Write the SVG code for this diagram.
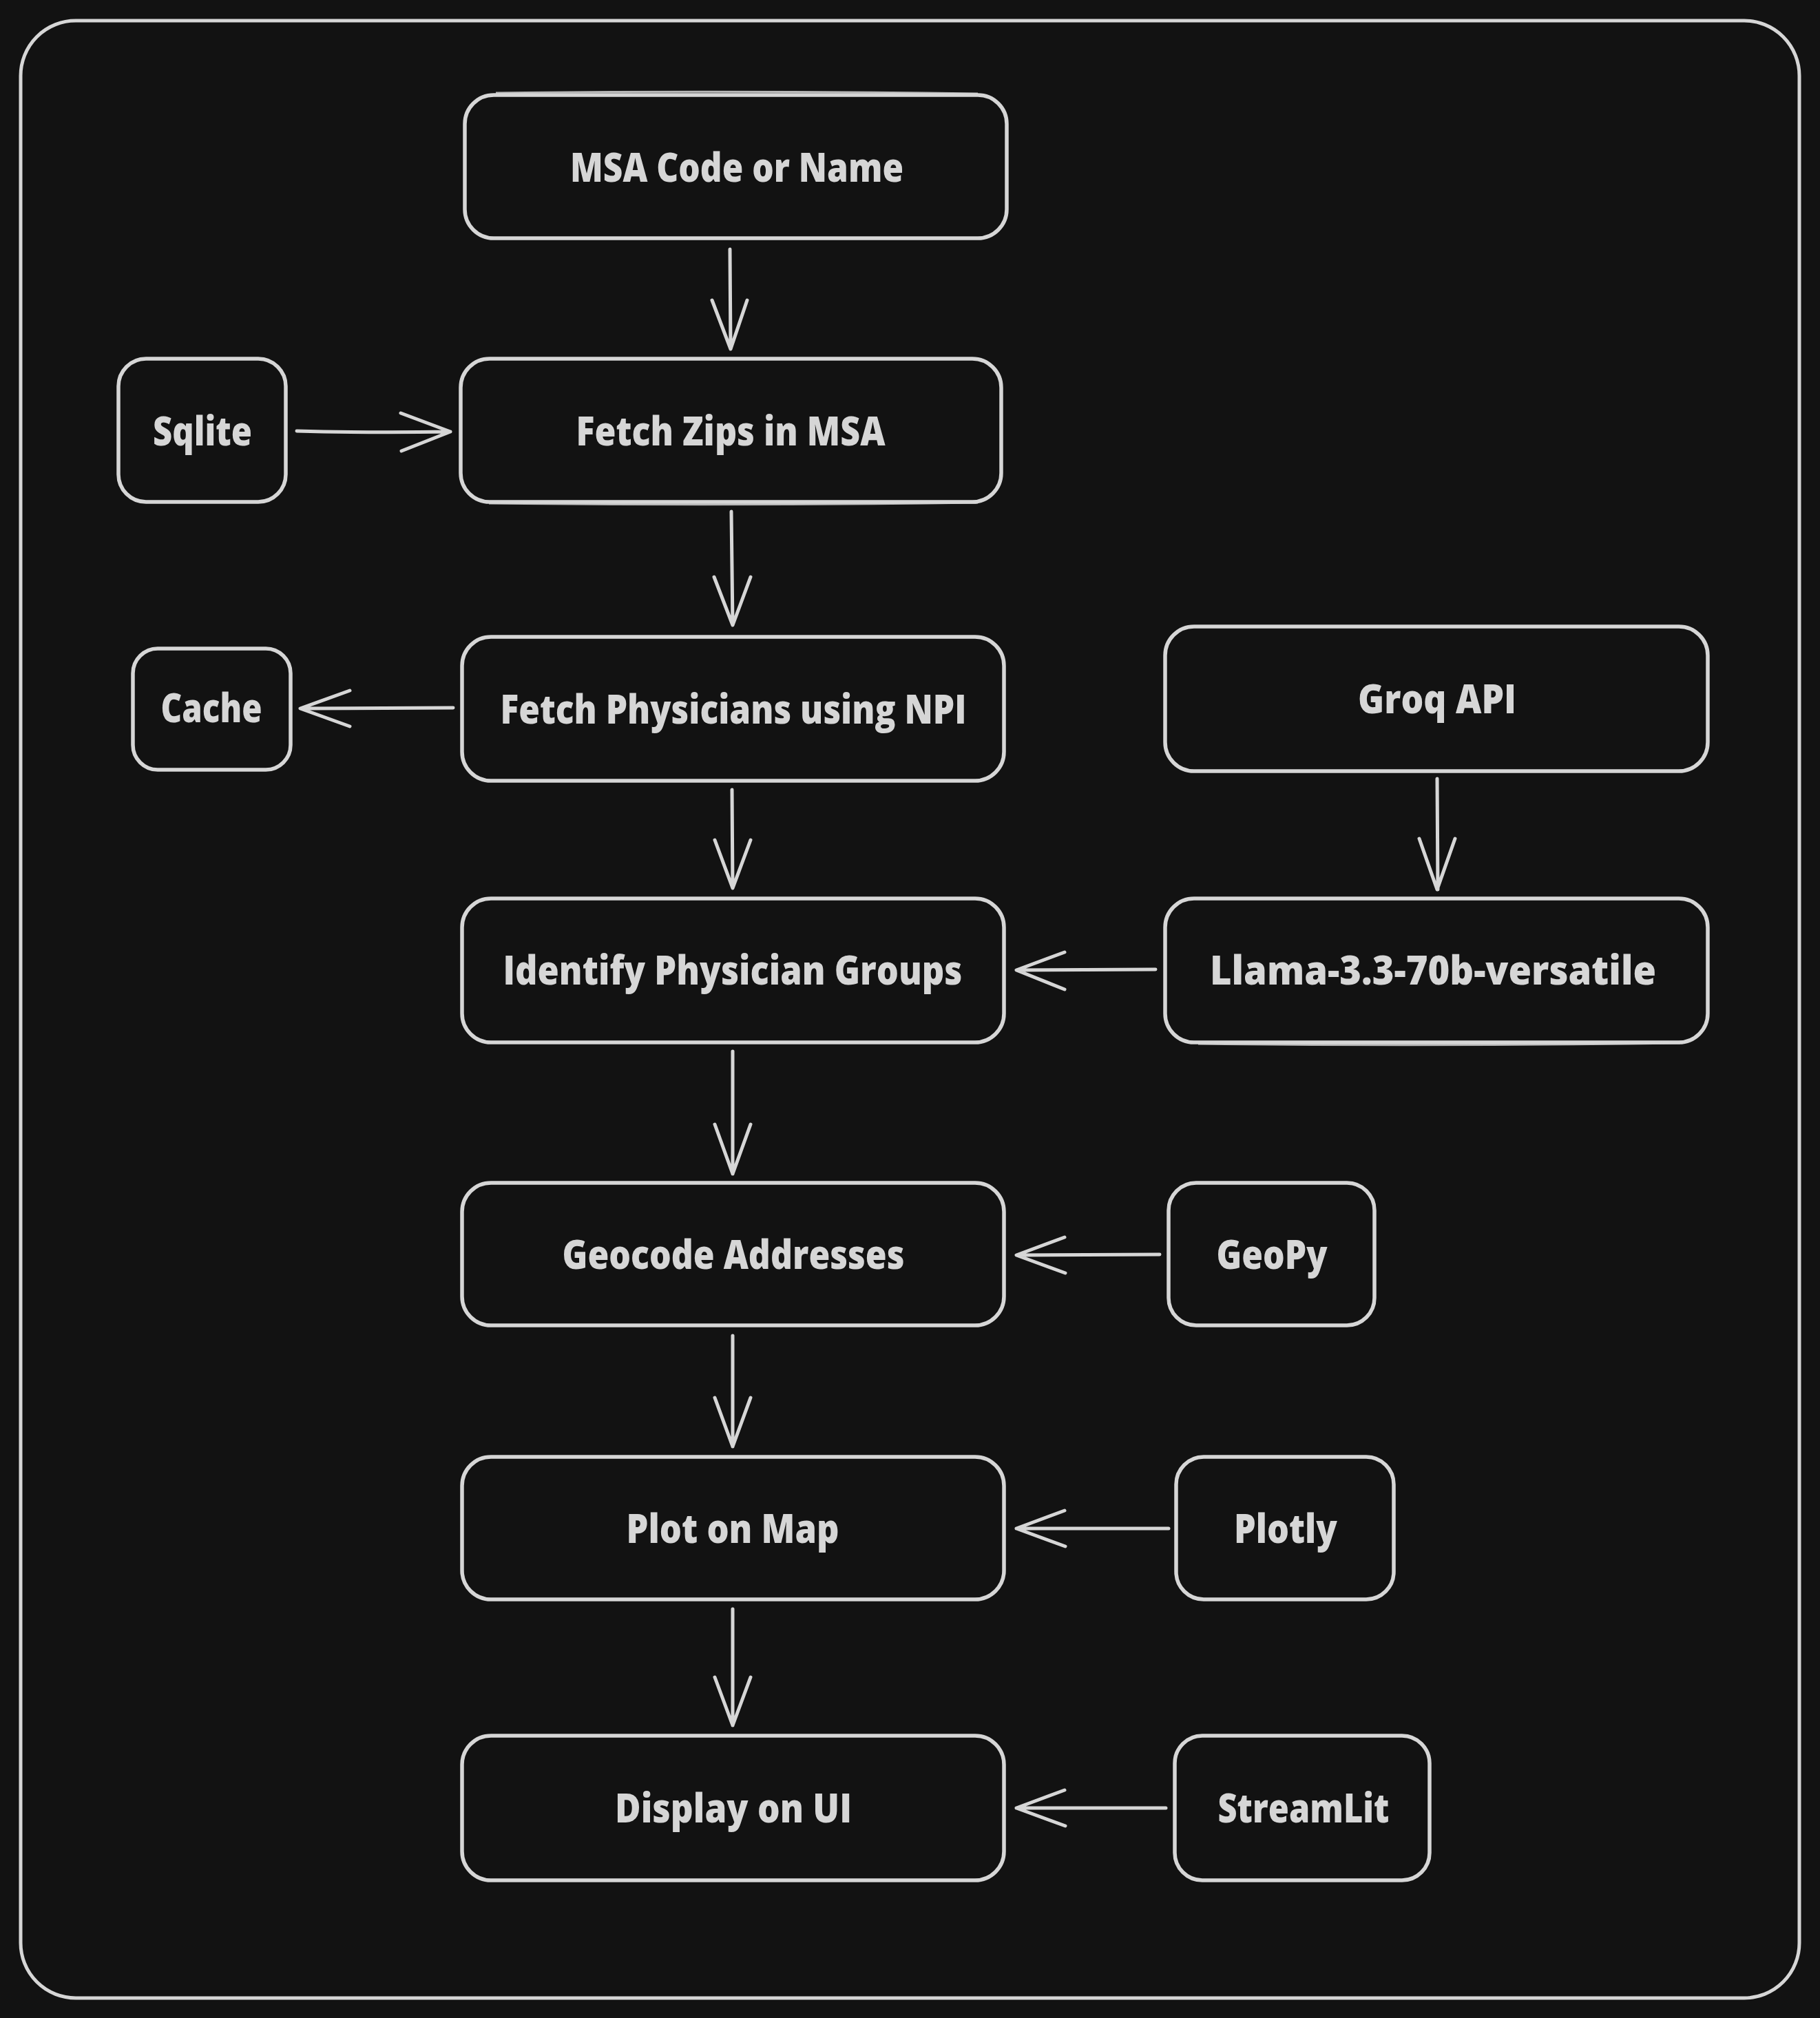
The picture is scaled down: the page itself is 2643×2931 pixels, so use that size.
<svg xmlns="http://www.w3.org/2000/svg" width="2643" height="2931" viewBox="0 0 2643 2931">
<defs>
<style>
.bg{fill:#121212}
.frame{fill:none;stroke:#d6d6d6;stroke-width:5}
.box{fill:#121212;stroke:#d6d6d6;stroke-width:5.5}
.sk{fill:none;stroke:#d6d6d6;stroke-width:3;opacity:0.85}
.lbl{fill:#d6d6d6;font-family:"Open Sans","Liberation Sans",sans-serif;font-weight:800;font-size:58px;text-anchor:middle}
.edge{fill:none;stroke:#d6d6d6;stroke-width:5;stroke-linecap:round;stroke-linejoin:round}
</style>
</defs>
<rect class="bg" x="0" y="0" width="2643" height="2931"/>
<rect class="frame" x="30" y="30" width="2583" height="2872" rx="80" ry="80"/>

<g id="n-msa">
<rect class="box" x="675" y="138" width="787" height="208" rx="42"/>
<path class="sk" d="M720 135 Q1070 131 1420 136"/>
<text class="lbl" x="1070" y="264" textLength="484" lengthAdjust="spacingAndGlyphs">MSA Code or Name</text>
</g>
<g id="n-sqlite">
<rect class="box" x="172" y="521" width="243" height="208" rx="40"/>
<text class="lbl" x="294" y="647" textLength="144" lengthAdjust="spacingAndGlyphs">Sqlite</text>
</g>
<g id="n-zips">
<rect class="box" x="669" y="521" width="785" height="208" rx="42"/>
<path class="sk" d="M710 731 Q1060 735 1420 730"/>
<text class="lbl" x="1061" y="647" textLength="449" lengthAdjust="spacingAndGlyphs">Fetch Zips in MSA</text>
</g>
<g id="n-cache">
<rect class="box" x="193" y="942" width="229" height="176" rx="36"/>
<text class="lbl" x="307" y="1049" textLength="147" lengthAdjust="spacingAndGlyphs">Cache</text>
</g>
<g id="n-npi">
<rect class="box" x="671" y="925" width="787" height="209" rx="42"/>
<text class="lbl" x="1065" y="1051" textLength="677" lengthAdjust="spacingAndGlyphs">Fetch Physicians using NPI</text>
</g>
<g id="n-groq">
<rect class="box" x="1692" y="910" width="788" height="210" rx="42"/>
<text class="lbl" x="2087" y="1036" textLength="230" lengthAdjust="spacingAndGlyphs">Groq API</text>
</g>
<g id="n-identify">
<rect class="box" x="671" y="1305" width="787" height="209" rx="42"/>
<text class="lbl" x="1064" y="1430" textLength="667" lengthAdjust="spacingAndGlyphs">Identify Physician Groups</text>
</g>
<g id="n-llama">
<rect class="box" x="1692" y="1305" width="788" height="209" rx="42"/>
<path class="sk" d="M1740 1516 Q2080 1520 2440 1515"/>
<text class="lbl" x="2081" y="1430" textLength="648" lengthAdjust="spacingAndGlyphs">Llama-3.3-70b-versatile</text>
</g>
<g id="n-geocode">
<rect class="box" x="671" y="1718" width="787" height="207" rx="42"/>
<text class="lbl" x="1065" y="1843" textLength="497" lengthAdjust="spacingAndGlyphs">Geocode Addresses</text>
</g>
<g id="n-geopy">
<rect class="box" x="1697" y="1718" width="299" height="207" rx="40"/>
<text class="lbl" x="1847" y="1843" textLength="161" lengthAdjust="spacingAndGlyphs">GeoPy</text>
</g>
<g id="n-plot">
<rect class="box" x="671" y="2116" width="787" height="207" rx="42"/>
<text class="lbl" x="1064" y="2241" textLength="309" lengthAdjust="spacingAndGlyphs">Plot on Map</text>
</g>
<g id="n-plotly">
<rect class="box" x="1708" y="2116" width="316" height="207" rx="40"/>
<text class="lbl" x="1867" y="2241" textLength="150" lengthAdjust="spacingAndGlyphs">Plotly</text>
</g>
<g id="n-display">
<rect class="box" x="671" y="2521" width="787" height="210" rx="42"/>
<text class="lbl" x="1065" y="2647" textLength="344" lengthAdjust="spacingAndGlyphs">Display on UI</text>
</g>
<g id="n-streamlit">
<rect class="box" x="1706" y="2521" width="370" height="210" rx="40"/>
<text class="lbl" x="1893" y="2647" textLength="249" lengthAdjust="spacingAndGlyphs">StreamLit</text>
</g>

<g id="connectors">
<path class="edge" d="M1060 362 L1061 507 M1034 436 L1061 507 L1085 436"/>
<path class="edge" d="M431 626 Q540 629 654 627 M582 600 L654 627 L583 655"/>
<path class="edge" d="M1062 743 L1064 908 M1037 838 L1064 908 L1090 838"/>
<path class="edge" d="M658 1028 L436 1029 M508 1003 L436 1029 L508 1055"/>
<path class="edge" d="M1063 1147 L1064 1290 M1038 1220 L1064 1290 L1090 1220"/>
<path class="edge" d="M2087 1131 L2088 1292 M2061 1218 L2087 1292 L2113 1218"/>
<path class="edge" d="M1678 1408 L1476 1409 M1546 1383 L1476 1409 L1546 1437"/>
<path class="edge" d="M1064 1527 L1064 1705 M1038 1633 L1064 1705 L1090 1633"/>
<path class="edge" d="M1684 1822 L1476 1823 M1546 1797 L1476 1823 L1547 1849"/>
<path class="edge" d="M1064 1940 L1064 2101 M1038 2030 L1064 2101 L1090 2030"/>
<path class="edge" d="M1697 2220 L1476 2220 M1546 2194 L1476 2220 L1547 2246"/>
<path class="edge" d="M1064 2337 L1064 2506 M1038 2436 L1064 2506 L1090 2436"/>
<path class="edge" d="M1693 2626 L1476 2626 M1546 2600 L1476 2626 L1547 2652"/>
</g>
</svg>
